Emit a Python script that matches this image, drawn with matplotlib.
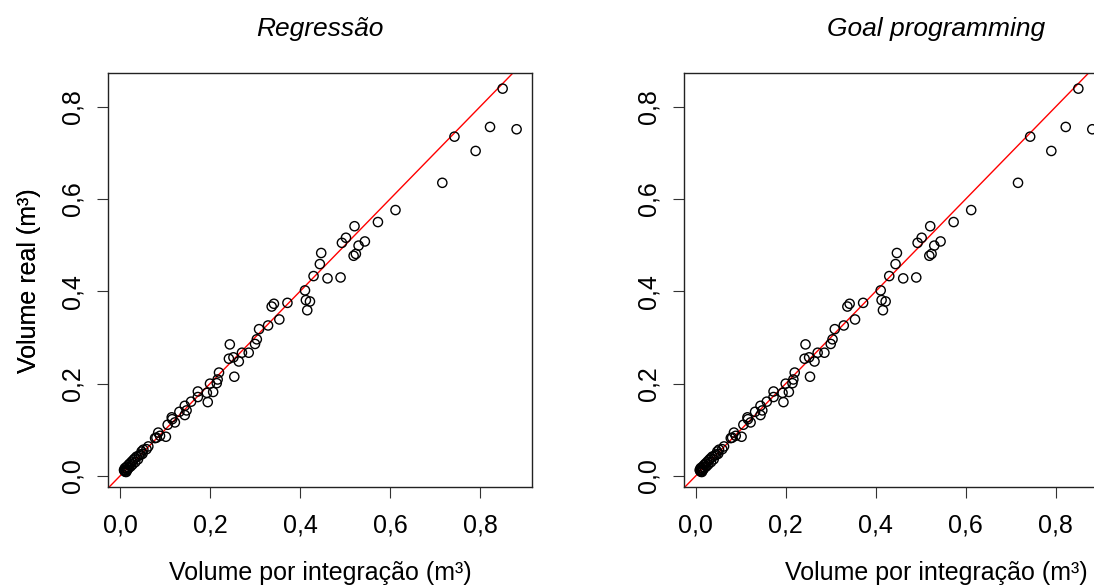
import matplotlib.pyplot as plt
from matplotlib.ticker import FuncFormatter

plt.rcParams['font.family'] = ['Liberation Sans', 'DejaVu Sans']

# volumes (same points in both panels)
vol_integracao = [
    0.850, 0.822, 0.881, 0.743, 0.790, 0.716, 0.612, 0.573, 0.521, 0.502,
    0.493, 0.544, 0.530, 0.524, 0.519, 0.447, 0.444, 0.430, 0.461, 0.490,
    0.411, 0.413, 0.422, 0.416, 0.372, 0.342, 0.337, 0.354, 0.329, 0.309,
    0.304, 0.300, 0.286, 0.271, 0.244, 0.242, 0.252, 0.264, 0.254, 0.220,
    0.217, 0.215, 0.200, 0.193, 0.207, 0.195, 0.173, 0.173, 0.158, 0.144,
    0.148, 0.144, 0.132, 0.115, 0.116, 0.122, 0.106, 0.102, 0.085, 0.081,
    0.089, 0.078, 0.063, 0.059, 0.052, 0.048, 0.046, 0.050, 0.042, 0.037,
    0.040, 0.033, 0.030, 0.034, 0.026, 0.028, 0.022, 0.024, 0.019, 0.020,
    0.015, 0.017, 0.011, 0.013, 0.009, 0.012, 0.014, 0.010, 0.016,
]
vol_real = [
    0.839, 0.756, 0.751, 0.735, 0.704, 0.635, 0.576, 0.550, 0.541, 0.516,
    0.505, 0.508, 0.499, 0.481, 0.477, 0.483, 0.459, 0.433, 0.428, 0.430,
    0.402, 0.381, 0.378, 0.359, 0.375, 0.373, 0.367, 0.339, 0.326, 0.318,
    0.296, 0.286, 0.267, 0.267, 0.285, 0.254, 0.257, 0.248, 0.215, 0.224,
    0.209, 0.201, 0.200, 0.180, 0.182, 0.160, 0.183, 0.171, 0.161, 0.152,
    0.142, 0.132, 0.139, 0.127, 0.123, 0.116, 0.111, 0.085, 0.094, 0.083,
    0.087, 0.082, 0.064, 0.058, 0.057, 0.053, 0.046, 0.048, 0.044, 0.042,
    0.036, 0.038, 0.035, 0.030, 0.031, 0.025, 0.027, 0.021, 0.024, 0.018,
    0.020, 0.015, 0.017, 0.012, 0.013, 0.009, 0.0087, 0.011, 0.013,
]
titulos = ['Regressão', 'Goal programming']
xticks = [0.0, 0.2, 0.4, 0.6, 0.8]
yticks = [0.0, 0.2, 0.4, 0.6, 0.8]


def r_lim(v):
    # R style axis range: data range padded by 4% on each side
    lo, hi = min(v), max(v)
    d = 0.04 * (hi - lo)
    return lo - d, hi + d


virgula = FuncFormatter(lambda v, p: f'{v:.1f}'.replace('.', ','))

W, H = 1094, 588
fig = plt.figure(figsize=(W / 100, H / 100), dpi=100)
top, bottom = 73.3, 487.3
paineis = [(108.3, 424), (684, 504)]

xlo, xhi = r_lim(vol_integracao)
ylo, yhi = r_lim(vol_real)

for i, (left, width) in enumerate(paineis):
    ax = fig.add_axes([left / W, 1 - bottom / H, width / W, (bottom - top) / H])
    ax.scatter(vol_integracao, vol_real, s=44, facecolors='none',
               edgecolors='black', linewidths=1.0, zorder=3)
    ax.axline((0, 0), slope=1, color='red', lw=1, zorder=2)

    ax.set_xlim(xlo, xlo + (xhi - xlo) * width / 424)
    ax.set_ylim(ylo, yhi)
    ax.set_xticks(xticks)
    ax.set_yticks(yticks)
    ax.xaxis.set_major_formatter(virgula)
    ax.yaxis.set_major_formatter(virgula)
    ax.tick_params(direction='out', length=7.6, width=0.8, pad=11.5,
                   labelsize=18, color='#333333')
    ax.tick_params(axis='y', labelrotation=90, pad=9.5)
    for lab in ax.get_yticklabels():
        lab.set_va('center')
    for s in ax.spines.values():
        s.set_linewidth(1.0)
        s.set_color('#222222')

    ax.set_title(titulos[i], fontsize=19, style='italic', pad=27)
    ax.set_xlabel('Volume por integração (m³)', fontsize=18)
    ax.xaxis.set_label_coords(0.5, (bottom - 580) / (bottom - top))
    ax.xaxis.label.set_va('baseline')
    ax.set_ylabel('Volume real (m³)', fontsize=18)
    ax.yaxis.set_label_coords((29 - left) / width, 0.5)
    ax.yaxis.label.set_va('center')

fig.savefig('out.png', dpi=100)
